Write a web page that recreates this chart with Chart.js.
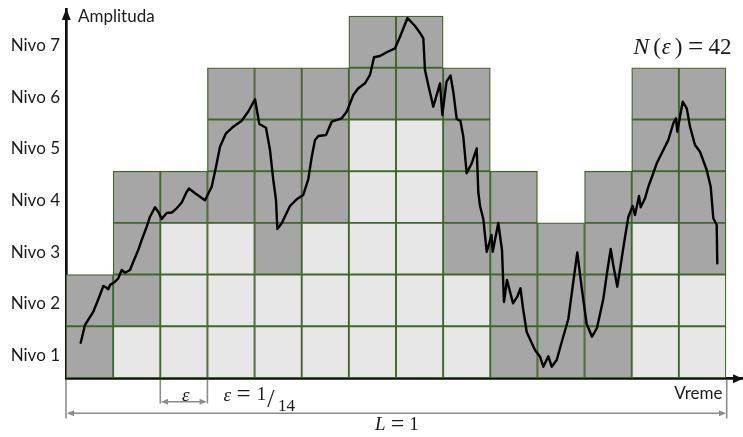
<!DOCTYPE html>
<html>
<head>
<meta charset="utf-8">
<script src="https://cdn.jsdelivr.net/npm/chart.js@4"></script>
<style>
  html, body { margin: 0; padding: 0; background: #ffffff; }
  #c { display: block; }
</style>
</head>
<body>
<canvas id="c" width="743" height="437"></canvas>
<script>
// ---------------- DATA ----------------
const nCols = 14;                                   // number of time boxes (epsilon = 1/14)
const columnIndex = [0,1,2,3,4,5,6,7,8,9,10,11,12,13];
const columnTopLevel = [2,4,4,6,6,6,7,7,6,4,3,4,6,6];       // highest box level in each column
const columnFirstDarkLevel = [1,2,4,4,3,4,6,6,3,1,1,1,4,3]; // lowest box crossed by the signal
const levels = [1,2,3,4,5,6,7];
const levelLabels = ['Nivo 1','Nivo 2','Nivo 3','Nivo 4','Nivo 5','Nivo 6','Nivo 7'];
const boxCount = 42;

// signal (time 0..1, amplitude in box-levels)
const curveTime = [0.0223,0.0288,0.0414,0.0515,0.0565,0.0606,0.0641,0.0667,0.0742,0.0792,
  0.0844,0.0894,0.0970,0.1020,0.1095,0.1147,0.1223,0.1273,0.1348,0.1398,
  0.1450,0.1526,0.1606,0.1677,0.1753,0.1829,0.1864,0.1955,0.2106,0.2208,
  0.2273,0.2333,0.2424,0.2535,0.2662,0.2762,0.2864,0.2929,0.3030,0.3091,
  0.3141,0.3182,0.3202,0.3268,0.3394,0.3495,0.3595,0.3671,0.3723,0.3773,
  0.3823,0.3939,0.4026,0.4177,0.4253,0.4353,0.4429,0.4530,0.4606,0.4667,
  0.4758,0.4859,0.4985,0.5061,0.5174,0.5288,0.5364,0.5414,0.5439,0.5489,
  0.5565,0.5667,0.5702,0.5765,0.5826,0.5868,0.5920,0.5977,0.6020,0.6071,
  0.6147,0.6223,0.6247,0.6273,0.6323,0.6374,0.6447,0.6465,0.6550,0.6606,
  0.6636,0.6682,0.6773,0.6838,0.6886,0.6924,0.6980,0.7106,0.7182,0.7232,
  0.7308,0.7359,0.7435,0.7511,0.7611,0.7686,0.7747,0.7814,0.7889,0.7970,
  0.8045,0.8141,0.8197,0.8253,0.8292,0.8353,0.8420,0.8470,0.8520,0.8586,
  0.8621,0.8682,0.8708,0.8773,0.8823,0.8898,0.8950,0.9026,0.9126,0.9202,
  0.9242,0.9262,0.9303,0.9344,0.9405,0.9455,0.9530,0.9606,0.9708,0.9768,
  0.9808,0.9859,0.9868];
const curveAmp = [0.683,1.025,1.282,1.605,1.779,1.754,1.715,1.798,1.862,1.928,
  2.089,2.036,2.089,2.249,2.475,2.669,2.926,3.119,3.301,3.216,
  3.075,3.191,3.201,3.282,3.394,3.603,3.665,3.572,3.436,3.699,
  4.086,4.473,4.732,4.860,4.976,5.154,5.390,4.912,4.839,4.409,
  3.829,3.442,2.881,2.992,3.326,3.456,3.539,3.848,4.274,4.603,
  4.680,4.699,4.957,5.022,5.150,5.473,5.602,5.699,5.860,6.202,
  6.227,6.299,6.376,6.600,6.962,6.807,6.672,6.569,5.956,5.666,
  5.247,5.699,5.086,5.730,5.850,5.537,5.009,4.970,4.666,3.959,
  4.152,4.442,3.597,3.326,3.075,2.437,2.765,2.442,2.998,2.475,
  1.470,1.895,1.445,1.572,1.735,1.354,0.890,0.541,0.412,0.219,
  0.420,0.219,0.348,0.696,1.141,1.857,2.427,1.740,1.044,0.799,
  0.967,1.528,2.031,2.495,2.185,1.766,2.315,2.727,3.114,3.326,
  3.152,3.520,3.301,3.475,3.699,3.959,4.152,4.345,4.603,4.926,
  5.022,4.763,5.053,5.343,5.216,4.860,4.506,4.376,4.022,3.699,
  3.088,2.959,2.218];

// ---------------- BUILD DATASETS ----------------
const eps = 1 / nCols;
const darkCells = [], lightCells = [];
columnIndex.forEach((c, i) => {
  for (let lv = 1; lv <= columnTopLevel[i]; lv++) {
    const cell = { x: (c + 0.5) * eps, y: [lv - 1, lv] };
    if (lv >= columnFirstDarkLevel[i]) darkCells.push(cell); else lightCells.push(cell);
  }
});
const curve = curveTime.map((t, i) => ({ x: t, y: curveAmp[i] }));

const GREEN = '#3f6828';
const SERIF = '"Liberation Serif", "DejaVu Serif", serif';
const SANS = 'Lato, "Noto Sans", sans-serif';

// ---------------- ANNOTATION PLUGIN ----------------
const annotations = {
  id: 'annotations',
  afterDraw(chart) {
    const { ctx, scales: { x, y } } = chart;
    const x0 = x.getPixelForValue(0), x1 = x.getPixelForValue(1);
    const y0 = y.getPixelForValue(0);
    const top = chart.chartArea.top, right = chart.chartArea.right;
    const xe0 = x.getPixelForValue(2 * eps), xe1 = x.getPixelForValue(3 * eps);
    ctx.save();
    // axis arrowheads
    ctx.fillStyle = '#111111';
    ctx.beginPath();
    ctx.moveTo(x0 + 0.3, top - 0.5); ctx.lineTo(x0 + 4.8, top + 11); ctx.lineTo(x0 - 4.2, top + 11); ctx.closePath(); ctx.fill();
    ctx.beginPath();
    ctx.moveTo(right, y0 + 0.8); ctx.lineTo(right - 10, y0 - 3.7); ctx.lineTo(right - 10, y0 + 5.3); ctx.closePath(); ctx.fill();

    // dimension lines (gray)
    ctx.strokeStyle = '#8c8c8c'; ctx.fillStyle = '#8c8c8c'; ctx.lineWidth = 1.6;
    const seg = (ax, ay, bx, by) => { ctx.beginPath(); ctx.moveTo(ax, ay); ctx.lineTo(bx, by); ctx.stroke(); };
    const head = (px, py, dir) => { ctx.beginPath(); ctx.moveTo(px, py); ctx.lineTo(px - dir * 7, py - 3); ctx.lineTo(px - dir * 7, py + 3); ctx.closePath(); ctx.fill(); };
    seg(x0, y0 + 2, x0, y0 + 40.5);
    seg(x1 + 0.7, y0 + 2, x1 + 0.7, y0 + 40.5);
    seg(x0 + 2, y0 + 35.3, x1 - 2, y0 + 35.3);
    head(x0 + 1, y0 + 35.3, -1); head(x1, y0 + 35.3, 1);
    seg(xe0, y0 + 2, xe0, y0 + 25.5);
    seg(xe1, y0 + 2, xe1, y0 + 25.5);
    seg(xe0 + 2, y0 + 23.7, xe1 - 2, y0 + 23.7);
    head(xe0 + 0.8, y0 + 23.7, -1); head(xe1 - 0.8, y0 + 23.7, 1);

    // texts
    ctx.fillStyle = '#1a1a1a';
    ctx.textBaseline = 'alphabetic';
    ctx.font = '17px ' + SANS;
    ctx.textAlign = 'left';
    ctx.fillText('Amplituda', x0 + 12, top + 12.5);
    ctx.textAlign = 'right';
    ctx.fillText('Vreme', x1 - 3.5, y0 + 21);

    const put = (txt, font, px, py, align) => { ctx.font = font; ctx.textAlign = align || 'left'; ctx.fillText(txt, px, py); };
    // epsilon label in bracket
    put('\u03B5', 'italic 19px ' + SERIF, (xe0 + xe1) / 2 + 2, y0 + 22.5, 'center');
    // epsilon = 1/14
    const ex = xe1 + 16;
    put('\u03B5', 'italic 19px ' + SERIF, ex, y0 + 23, 'left');
    put('=', '25px ' + SERIF, ex + 20, y0 + 24, 'center');
    put('1', '19px ' + SERIF, ex + 38, y0 + 22, 'center');
    put('/', '26px ' + SERIF, ex + 47.5, y0 + 29, 'center');
    put('14', '17px ' + SERIF, ex + 63, y0 + 32.5, 'center');
    // L = 1
    const lx = (x0 + x1) / 2;
    put('L', 'italic 19px ' + SERIF, lx - 21, y0 + 52, 'left');
    put('=', '24px ' + SERIF, lx + 1.5, y0 + 53, 'center');
    put(String(1), '19px ' + SERIF, lx + 18, y0 + 52, 'center');
    // N(eps) = 42
    const nb = top + 44.5;
    const nx = x.getPixelForValue(12 * eps) + 1.5;
    put('N', 'italic 24px ' + SERIF, nx, nb, 'left');
    put('(', '23px ' + SERIF, nx + 20, nb, 'left');
    put('\u03B5', 'italic 23px ' + SERIF, nx + 28.5, nb, 'left');
    put(')', '23px ' + SERIF, nx + 41.5, nb, 'left');
    put('=', '27px ' + SERIF, nx + 62.5, nb + 1, 'center');
    put(String(boxCount), '23px ' + SERIF, x1 + 5.5, nb, 'right');
    ctx.restore();
  }
};

// ---------------- CHART ----------------
new Chart(document.getElementById('c'), {
  type: 'bar',
  data: {
    datasets: [
      { type: 'line', label: 'signal', data: curve, borderColor: '#000000', borderWidth: 2.4,
        pointRadius: 0, tension: 0, borderJoinStyle: 'round', borderCapStyle: 'round', order: 0, fill: false },
      { label: 'dark', data: darkCells, backgroundColor: '#a6a6a6', borderColor: GREEN, borderWidth: 1.3,
        borderSkipped: false, grouped: false, barPercentage: 1, categoryPercentage: 1, order: 1 },
      { label: 'light', data: lightCells, backgroundColor: '#e7e7e7', borderColor: GREEN, borderWidth: 1.3,
        borderSkipped: false, grouped: false, barPercentage: 1, categoryPercentage: 1, order: 2 }
    ]
  },
  options: {
    responsive: false,
    devicePixelRatio: 1,
    animation: false,
    layout: { padding: { top: 9, right: 0, left: 0, bottom: 0 } },
    plugins: { legend: { display: false }, tooltip: { enabled: false } },
    scales: {
      x: {
        type: 'linear', min: 0, max: 677 / 660, offset: false, z: 1,
        grid: { display: false, drawTicks: false },
        border: { display: true, color: '#111111', width: 2.7 },
        ticks: { display: false },
        afterFit: (s) => { s.height = 59; }
      },
      y: {
        type: 'linear', min: 0, max: 369 / 51.71, z: 1,
        grid: { display: false, drawTicks: false },
        border: { display: true, color: '#111111', width: 2.7 },
        afterBuildTicks: (s) => { s.ticks = levels.map(l => ({ value: l - 0.5 })); },
        ticks: {
          padding: 6, labelOffset: 3.5, color: '#1a1a1a',
          font: { family: SANS, size: 17 },
          callback: (v, i) => levelLabels[i]
        },
        afterFit: (s) => { s.width = 66; s.paddingTop = 0; s.paddingBottom = 0; }
      }
    }
  },
  plugins: [annotations]
});
</script>
</body>
</html>
